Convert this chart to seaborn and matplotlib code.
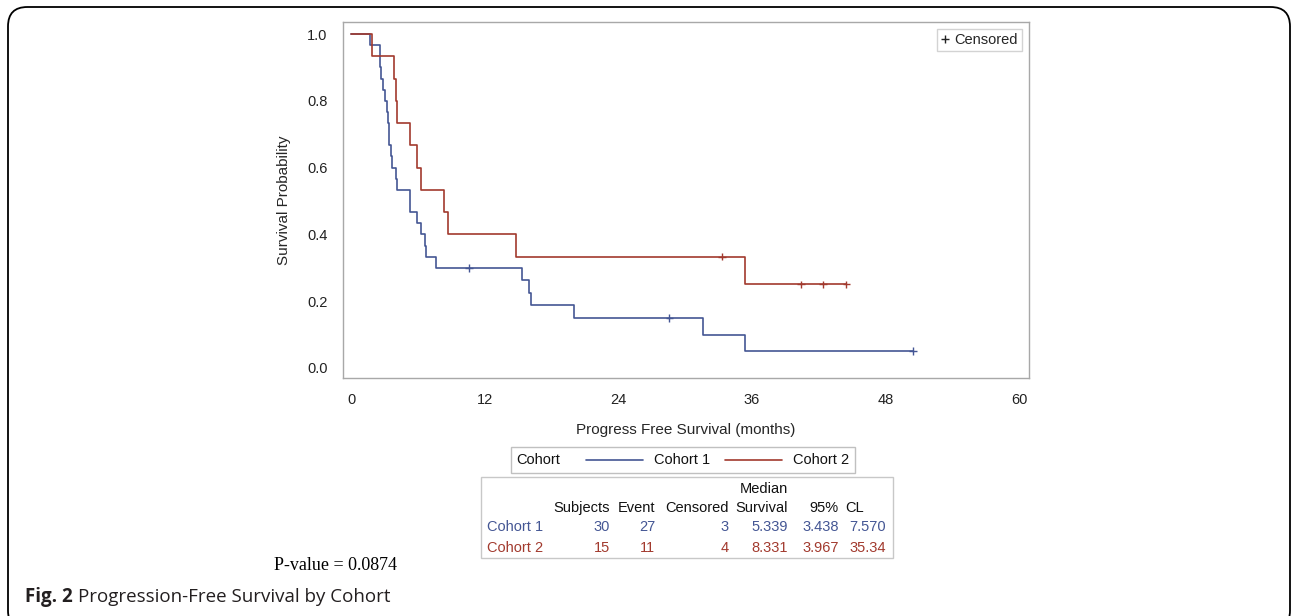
import pandas as pd
import numpy as np

import matplotlib
matplotlib.use('Agg')
import matplotlib.pyplot as plt
import seaborn as sns
from matplotlib.lines import Line2D
from matplotlib.patches import Rectangle, FancyBboxPatch
from matplotlib.offsetbox import TextArea, DrawingArea, HPacker, AnchoredOffsetbox

# event / censoring times (months)
cohort1_events = [1.7, 2.6, 2.6, 2.73, 2.9, 3.05, 3.2, 3.3, 3.41, 3.41, 3.56, 3.65, 4.0, 4.13,
                  5.34, 5.34, 5.9, 6.3, 6.65, 6.77, 7.64, 15.4, 16.0, 16.2, 20.0, 31.6, 35.35]
cohort1_censored = [10.6, 28.6, 50.5]
cohort2_events = [1.86, 3.9, 4.05, 4.15, 5.3, 5.9, 6.33, 8.33, 8.75, 14.8, 35.35]
cohort2_censored = [33.3, 40.4, 42.4, 44.5]

cohort_names = ["Cohort 1", "Cohort 2"]
cohort_colors = ["#445694", "#A23A2E"]

# summary table
table_header = ["Subjects", "Event", "Censored", "Survival", "95%"]
subjects = ["30", "15"]
n_events = ["27", "11"]
n_censored = ["3", "4"]
median_surv = ["5.339", "8.331"]
cl_low = ["3.438", "3.967"]
cl_high = ["7.570", "35.34"]

x_ticks = [0, 12, 24, 36, 48, 60]
y_ticks = [0.0, 0.2, 0.4, 0.6, 0.8, 1.0]


def kaplan_meier(events, censored):
    times = sorted(set(events + censored))
    n = len(events) + len(censored)
    s = 1.0
    rows = [(0.0, 1.0, False)]
    for t in times:
        d = events.count(t)
        c = censored.count(t)
        s *= (1 - d / n)
        n -= d + c
        rows.append((t, s, c > 0))
    return pd.DataFrame(rows, columns=["time", "surv", "cens"])


frames = []
for name, ev, ce in [(cohort_names[0], cohort1_events, cohort1_censored),
                     (cohort_names[1], cohort2_events, cohort2_censored)]:
    df = kaplan_meier(ev, ce)
    df["cohort"] = name
    frames.append(df)
km = pd.concat(frames, ignore_index=True)

sns.set_style("white")
plt.rcParams['font.family'] = ['Liberation Sans', 'DejaVu Sans']

W, H = 1292, 616
fx = lambda x: x / W
fy = lambda y: 1 - y / H

fig = plt.figure(figsize=(12.92, 6.16), dpi=100)
ax = fig.add_axes([fx(343), fy(378), 686 / W, 356 / H])

palette = dict(zip(cohort_names, cohort_colors))
sns.lineplot(data=km, x="time", y="surv", hue="cohort", palette=palette,
             drawstyle="steps-post", estimator=None, sort=False, legend=False,
             linewidth=1.2, ax=ax)
sns.scatterplot(data=km[km["cens"]], x="time", y="surv", hue="cohort", palette=palette,
                marker="+", s=30, linewidth=1.0, legend=False, ax=ax)

ax.set_xlim(-0.72, 60.9)
ax.set_ylim(-0.03, 1.036)
ax.set_xticks(x_ticks)
ax.set_yticks(y_ticks)
ax.set_yticklabels([f"{v:.1f}" for v in y_ticks])
ax.tick_params(direction="out", length=7, width=1, color="#a0a0a0",
               labelsize=10.5, labelcolor="#222222", pad=4)
for sp in ax.spines.values():
    sp.set_color("#a8a8a8")
    sp.set_linewidth(1)
ax.set_xlabel("Progress Free Survival (months)", fontsize=11, labelpad=11)
ax.set_ylabel("Survival Probability", fontsize=11, labelpad=12)

cens_handle = Line2D([], [], color="#222222", marker="+", linestyle="none", markersize=6)
ax.legend([cens_handle], ["Censored"], loc="upper right", fontsize=10.5, frameon=True,
          fancybox=False, edgecolor="#c8c8c8", handlelength=0.5, handletextpad=0.4,
          borderpad=0.3, borderaxespad=0.45)

# cohort legend below the plot
def line_sample(color):
    da = DrawingArea(41, 8, 0, 0)
    da.add_artist(Line2D([0, 41], [4, 4], color=color, lw=1.2))
    return da


def spacer(w):
    return DrawingArea(w, 8, 0, 0)


tp = dict(fontsize=10.5, color="#111111")
children = [TextArea("Cohort", textprops=tp), spacer(18), line_sample(cohort_colors[0]), spacer(8),
            TextArea(cohort_names[0], textprops=tp), spacer(11), line_sample(cohort_colors[1]), spacer(8),
            TextArea(cohort_names[1], textprops=tp)]
pack = HPacker(children=children, align="center", pad=0, sep=0)
anch = AnchoredOffsetbox(loc="center", child=pack, pad=0.4, borderpad=0, frameon=True,
                         bbox_to_anchor=(fx(683), fy(460)), bbox_transform=fig.transFigure)
anch.patch.set_edgecolor("#c0c0c0")
anch.patch.set_boxstyle("square", pad=0)
fig.add_artist(anch)

# summary table
fig.add_artist(Rectangle((fx(481), fy(558)), 412 / W, 81 / H, transform=fig.transFigure,
                         fill=False, edgecolor="#c8c8c8", lw=1))
col_right = [610, 655, 729, 788, 839]
fs = 10.5
fig.text(fx(788), fy(489), "Median", ha="right", va="center", fontsize=fs, color="#111111")
for lbl, xr in zip(table_header, col_right):
    fig.text(fx(xr), fy(508), lbl, ha="right", va="center", fontsize=fs, color="#111111")
fig.text(fx(845), fy(508), "CL", ha="left", va="center", fontsize=fs, color="#111111")
row_y = [527, 548]
for i in range(2):
    c = cohort_colors[i]
    fig.text(fx(487), fy(row_y[i]), cohort_names[i], ha="left", va="center", fontsize=fs, color=c)
    vals = [subjects[i], n_events[i], n_censored[i], median_surv[i], cl_low[i], cl_high[i]]
    for v, xr in zip(vals, col_right + [886]):
        fig.text(fx(xr), fy(row_y[i]), v, ha="right", va="center", fontsize=fs, color=c)

fig.text(fx(274), fy(565), "P-value = 0.0874", ha="left", va="center", fontsize=13,
         family=["Liberation Serif", "DejaVu Serif"], color="black")

# caption
fig.canvas.draw()
r = fig.canvas.get_renderer()
t1 = fig.text(fx(25), fy(597), "Fig. 2", ha="left", va="center", fontsize=13.5,
              fontweight="bold", family=["Open Sans", "DejaVu Sans"], color="#231f20")
bb = t1.get_window_extent(renderer=r)
fig.text(fx(bb.x1 + 5), fy(597), "Progression-Free Survival by Cohort", ha="left", va="center",
         fontsize=13.5, family=["Open Sans", "DejaVu Sans"], color="#231f20")

# outer rounded frame
fig.add_artist(FancyBboxPatch((fx(8), fy(630)), (1290 - 8) / W, (630 - 7) / H,
                              boxstyle="round,pad=0,rounding_size=0.015",
                              transform=fig.transFigure, fill=False, edgecolor="black", lw=1.3,
                              mutation_aspect=W / H))

fig.savefig("out.png", dpi=100)
plt.close()
